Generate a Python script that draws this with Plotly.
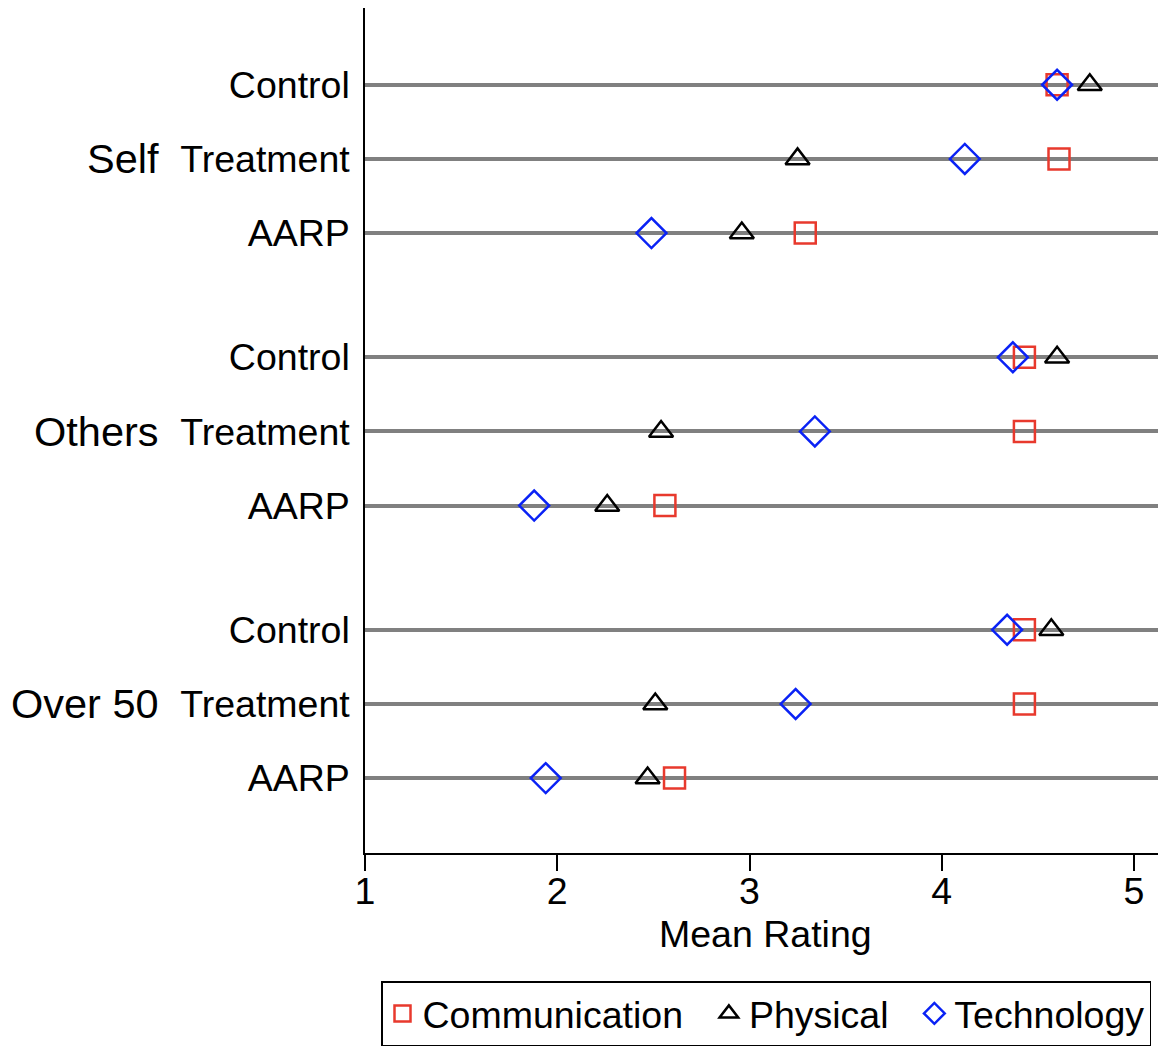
import plotly.graph_objects as go

groups = ["Self", "Others", "Over 50"]
conditions = ["Control", "Treatment", "AARP"]

# values by row: Self(Control, Treatment, AARP), Others(...), Over 50(...)
communication = [4.60, 4.61, 3.29, 4.43, 4.43, 2.56, 4.43, 4.43, 2.61]
physical = [4.77, 3.25, 2.96, 4.60, 2.54, 2.26, 4.57, 2.51, 2.47]
technology = [4.60, 4.12, 2.49, 4.37, 3.34, 1.88, 4.34, 3.24, 1.94]
x_ticks = [1, 2, 3, 4, 5]
x_title = "Mean Rating"

GROUP_STEP = 3.675
rows_y = []
rows_label = []
for gi, g in enumerate(groups):
    for ci, c in enumerate(conditions):
        rows_y.append(gi * GROUP_STEP + ci)
        rows_label.append(c)

RED = "#E8392D"
BLUE = "#0A22F5"
BLACK = "#000000"
FONT = "Liberation Sans, Arial, sans-serif"

fig = go.Figure()
series = [
    ("Communication", communication, "square-open", RED, 21),
    ("Physical", physical, "triangle-up-open", BLACK, 21),
    ("Technology", technology, "diamond-open", BLUE, 23),
]
pads = ["\u00a0\u00a0", "\u00a0\u00a0", ""]
for (name, vals, sym, col, sz), pad in zip(series, pads):
    fig.add_trace(go.Scatter(
        x=vals, y=rows_y, mode="markers",
        name=name + pad,
        marker=dict(symbol=sym, size=sz, color=col, line=dict(width=2.5, color=col)),
    ))

for gi, g in enumerate(groups):
    fig.add_annotation(
        x=-204 / 801, xref="paper", xanchor="right",
        y=gi * GROUP_STEP + 1, yref="y", yanchor="middle",
        text=g, showarrow=False, font=dict(size=41.5, color="black", family=FONT),
    )

# x-axis title
fig.add_annotation(
    x=0.5, xref="paper", xanchor="center",
    y=(837 - 917) / 837, yref="paper", yanchor="middle",
    text=x_title, showarrow=False, font=dict(size=37.5, color="black", family=FONT),
)

fig.update_layout(
    width=1158, height=1038,
    margin=dict(l=357, r=0, t=0, b=193),
    paper_bgcolor="white", plot_bgcolor="white",
    font=dict(family=FONT, size=37.5, color="black"),
    showlegend=True,
    legend=dict(
        orientation="h", x=(381 - 365) / 801, xanchor="left", y=-0.152, yanchor="top",
        bordercolor="black", borderwidth=1.5, font=dict(size=37.5),
        itemsizing="trace",
    ),
    xaxis=dict(
        range=[1, 5.1665], tickvals=x_ticks, showgrid=False, zeroline=False,
        showline=True, linecolor="black", linewidth=1.5,
        ticks="outside", ticklen=16, tickwidth=1.5, tickcolor="black",
        tickfont=dict(size=37.5), ticklabelstandoff=-12,
    ),
    yaxis=dict(
        range=[10.36, -1.035], tickvals=rows_y, ticktext=rows_label,
        showgrid=True, gridcolor="#808080", gridwidth=4, zeroline=False,
        showline=True, linecolor="black", linewidth=1.5,
        ticks="", ticklabelstandoff=6, tickfont=dict(size=37.5),
    ),
)

fig.write_html("out.html")
